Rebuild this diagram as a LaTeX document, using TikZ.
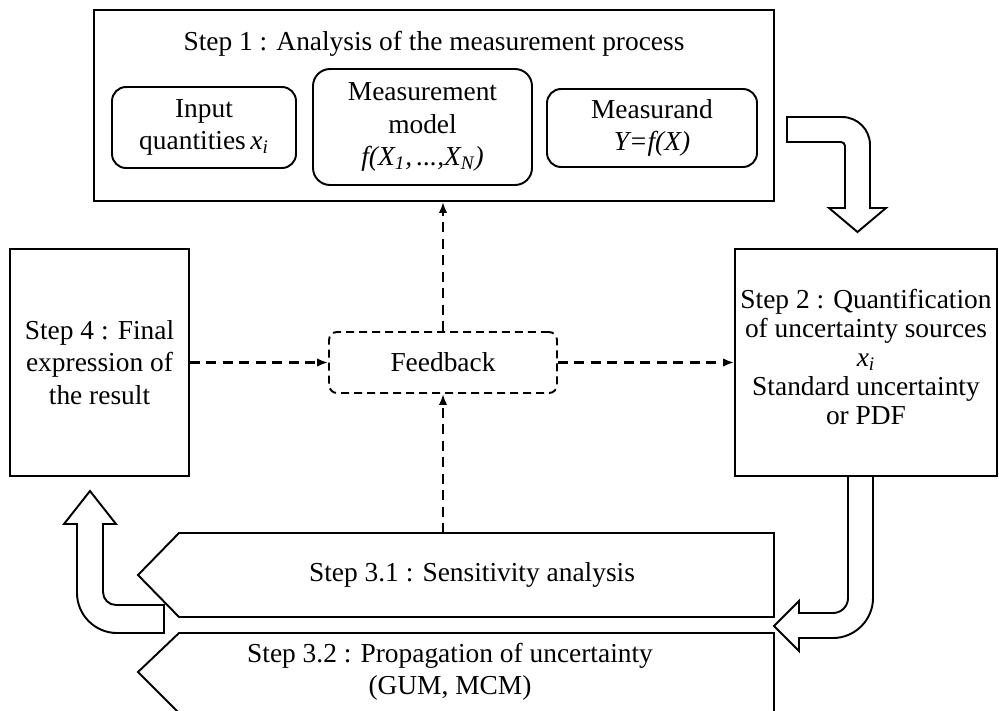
\documentclass[tikz,border=0pt]{standalone}
\usepackage{fontspec}
\setmainfont{Liberation Serif}
\usetikzlibrary{arrows.meta}
\begin{document}
\begin{tikzpicture}[x=0.02cm,y=-0.02cm,
  every node/.style={font=\fontsize{15.6}{18.5}\selectfont},
  box/.style={draw, line width=1.1pt, inner sep=0pt, align=center},
  rbox/.style={box, rounded corners=0.28cm},
  lbl/.style={align=center, inner sep=0pt},
  fbbox/.style={draw, line width=1.1pt, dash pattern=on 0.16cm off 0.1cm,
                rounded corners=0.16cm, inner sep=0pt},
  dflow/.style={line width=1.2pt, dash pattern=on 0.2cm off 0.13cm,
                -{Latex[length=0.22cm,width=0.17cm]}},
  bigarrow/.style={draw, line width=1.1pt, line join=miter},
  stepshape/.style={draw, line width=1.1pt}]

\useasboundingbox (0,0) rectangle (999,710);

% Step 1 frame with its three sub-blocks
\node[box, minimum width=13.6cm, minimum height=3.82cm] (s1) at (434,105.5) {};
\node[lbl] (s1title) at (434,44) {Step 1 : Analysis of the measurement process};
\node[rbox, minimum width=3.68cm, minimum height=1.62cm] (inq) at (204,127.5)
  {Input\\quantities\,\textit{x}\textsubscript{\textit{i}}};
\node[rbox, rounded corners=0.34cm, minimum width=4.38cm, minimum height=2.32cm] (model) at (422.5,127)
  {Measurement\\model\\\textit{f(X\textsubscript{1},\,...,X\textsubscript{N})}};
\node[rbox, minimum width=4.2cm, minimum height=1.56cm] (msd) at (652,128)
  {Measurand\\\textit{Y=f(X)}};

% Step 4 and Step 2
\node[box, minimum width=3.58cm, minimum height=4.54cm] (s4) at (99.5,362.5)
  {Step 4 : Final\\expression of\\the result};
\node[box, minimum width=5.24cm, minimum height=4.54cm] (s2) at (866,362.5) {};
\node[lbl, font=\fontsize{15.6}{16.6}\selectfont] (s2text) at (866,357)
  {Step 2 : Quantification\\of uncertainty sources\\\textit{x}\textsubscript{\textit{i}}\\Standard uncertainty\\or PDF};

% Feedback hub
\node[fbbox, minimum width=4.56cm, minimum height=1.22cm] (fb) at (443,362.5) {Feedback};

% Step 3.1 and Step 3.2 (left-pointing pentagons)
\draw[stepshape] (774,533) -- (179,533) -- (138,575) -- (179,617) -- (774,617) -- cycle;
\node[lbl] (s31) at (472,575) {Step 3.1 : Sensitivity analysis};
\draw[stepshape] (774,633) -- (179,633) -- (138,672) -- (180,714) -- (774,714) -- cycle;
\node[lbl] (s32) at (450,672) {Step 3.2 : Propagation of uncertainty\\(GUM, MCM)};
\coordinate (s31top) at (443,533);

% Dashed feedback connectors
\draw[dflow] (s4.east) -- (fb.west);
\draw[dflow] (fb.east) -- (s2.west);
\draw[dflow] (fb.north) -- (fb.north |- s1.south);
\draw[dflow] (s31top) -- (fb.south);

% Hollow bent arrow: Step 1 -> Step 2
\path[bigarrow] (787,117) -- (842,117)
  .. controls (857.5,117) and (870,129.5) .. (870,145)
  -- (870,208) -- (886,208) -- (857.5,232) -- (829,208) -- (845,208)
  -- (845,146) .. controls (845,143.8) and (843.2,142) .. (841,142)
  -- (787,142) -- cycle;

% Hollow bent arrow: Step 2 -> Step 3
\path[bigarrow] (848,476) -- (848,598)
  .. controls (848,606.3) and (841.3,613) .. (833,613)
  -- (799,613) -- (799,601) -- (774,626) -- (799,651) -- (799,638)
  -- (833,638) .. controls (855,638) and (873,620) .. (873,598)
  -- (873,476) -- cycle;

% Hollow bent arrow: Step 3 -> Step 4
\path[bigarrow] (164,605) -- (116,605)
  .. controls (108.8,605) and (103,599.2) .. (103,592)
  -- (103,524) -- (116,524) -- (90,491) -- (64,524) -- (77,524)
  -- (77,593) .. controls (77,615) and (95,633) .. (117,633)
  -- (164,633) -- cycle;
\end{tikzpicture}
\end{document}
